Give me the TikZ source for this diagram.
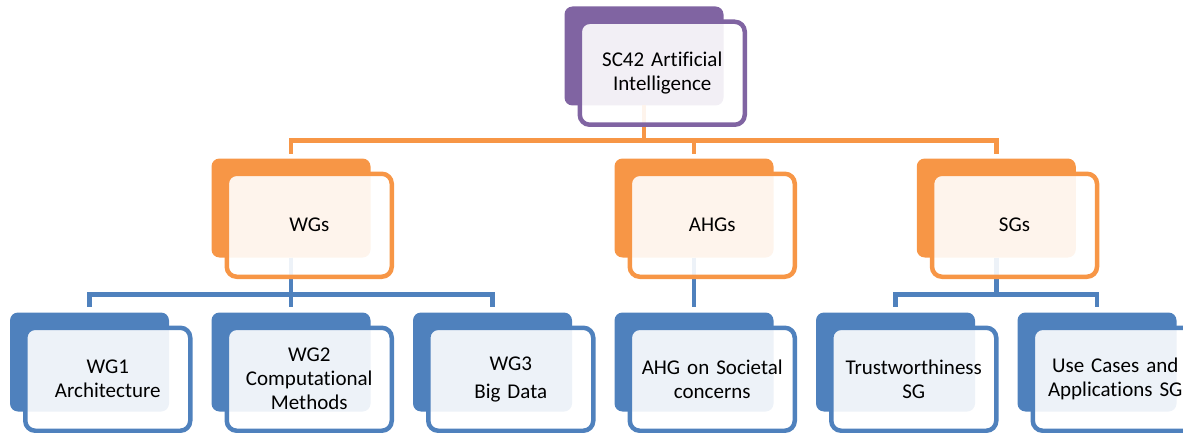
\documentclass[tikz,border=0pt]{standalone}
\usepackage{fontspec}
\setmainfont{Carlito}[Ligatures=NoCommon]
\usetikzlibrary{positioning}

\definecolor{scpurple}{HTML}{8064A2}
\definecolor{grporange}{HTML}{F79646}
\definecolor{wgblue}{HTML}{4F81BD}

\begin{document}
\begin{tikzpicture}[
  font=\fontsize{21}{24}\selectfont,
  back/.style={fill=#1, rounded corners=8pt, minimum width=159pt, minimum height=99pt,
    inner sep=0pt, outer sep=0pt},
  front/.style={draw=#1, line width=4.5pt, fill=white, fill opacity=0.9, text opacity=1,
    rounded corners=10pt, minimum width=165pt, minimum height=103pt, text width=160pt,
    align=center, inner sep=0pt, anchor=north west},
  link/.style={draw=#1, line width=4.5pt}
]
\useasboundingbox (0,0) rectangle (1183pt,-433pt);

% Back boxes
\node[back=wgblue] (wg1) at (89.5pt,-362pt) {};
\node[back=wgblue, right=42.5pt of wg1] (wg2) {};
\node[back=wgblue, right=42.5pt of wg2] (wg3) {};
\node[back=wgblue, right=42.5pt of wg3] (ahg) {};
\node[back=wgblue, right=42.5pt of ahg] (trust) {};
\node[back=wgblue, right=42.5pt of trust] (usecases) {};
\path (trust.north) -- (usecases.north) coordinate[midway] (sgtop);

\node[back=grporange, above=55pt of wg2] (wgs) {};
\node[back=grporange, above=55pt of ahg] (ahgs) {};
\node[back=grporange, above=55pt of sgtop] (sgs) {};

\node[back=scpurple, above=53pt of ahgs, xshift=-50pt] (sc42) {};

% Connectors
\draw[link=grporange] (sc42.south) |- ([yshift=18pt]wgs.north) -- ([yshift=5pt]wgs.north);
\draw[link=grporange] (sc42.south) |- ([yshift=18pt]ahgs.north) -- ([yshift=5pt]ahgs.north);
\draw[link=grporange] (sc42.south) |- ([yshift=18pt]sgs.north) -- ([yshift=5pt]sgs.north);

\draw[link=wgblue] (wgs.south) |- ([yshift=18pt]wg1.north) -- ([yshift=6pt]wg1.north);
\draw[link=wgblue] (wgs.south) |- ([yshift=18pt]wg2.north) -- ([yshift=6pt]wg2.north);
\draw[link=wgblue] (wgs.south) |- ([yshift=18pt]wg3.north) -- ([yshift=6pt]wg3.north);
\draw[link=wgblue] (ahgs.south) -- ([yshift=6pt]ahg.north);
\draw[link=wgblue] (sgs.south) |- ([yshift=18pt]trust.north) -- ([yshift=6pt]trust.north);
\draw[link=wgblue] (sgs.south) |- ([yshift=18pt]usecases.north) -- ([yshift=6pt]usecases.north);

% Front boxes
\node[front=scpurple] (sc42f) at ([shift={(13pt,-13pt)}]sc42.north west) {SC42 Artificial\\Intelligence};
\node[front=grporange] (wgsf) at ([shift={(13pt,-13pt)}]wgs.north west) {WGs};
\node[front=grporange] (ahgsf) at ([shift={(13pt,-13pt)}]ahgs.north west) {AHGs};
\node[front=grporange] (sgsf) at ([shift={(13pt,-13pt)}]sgs.north west) {SGs};
\node[front=wgblue] (wg1f) at ([shift={(13pt,-13pt)}]wg1.north west) {WG1\\Architecture};
\node[front=wgblue] (wg2f) at ([shift={(13pt,-13pt)}]wg2.north west) {WG2\\Computational\\Methods};
\node[front=wgblue] (wg3f) at ([shift={(13pt,-13pt)}]wg3.north west) {WG3\\[4pt]Big Data};
\node[front=wgblue] (ahgf) at ([shift={(13pt,-13pt)}]ahg.north west) {AHG on Societal\\concerns};
\node[front=wgblue] (trustf) at ([shift={(13pt,-13pt)}]trust.north west) {Trustworthiness\\SG};
\node[front=wgblue] (usecasesf) at ([shift={(13pt,-13pt)}]usecases.north west) {Use Cases and\\Applications SG};
\end{tikzpicture}
\end{document}
